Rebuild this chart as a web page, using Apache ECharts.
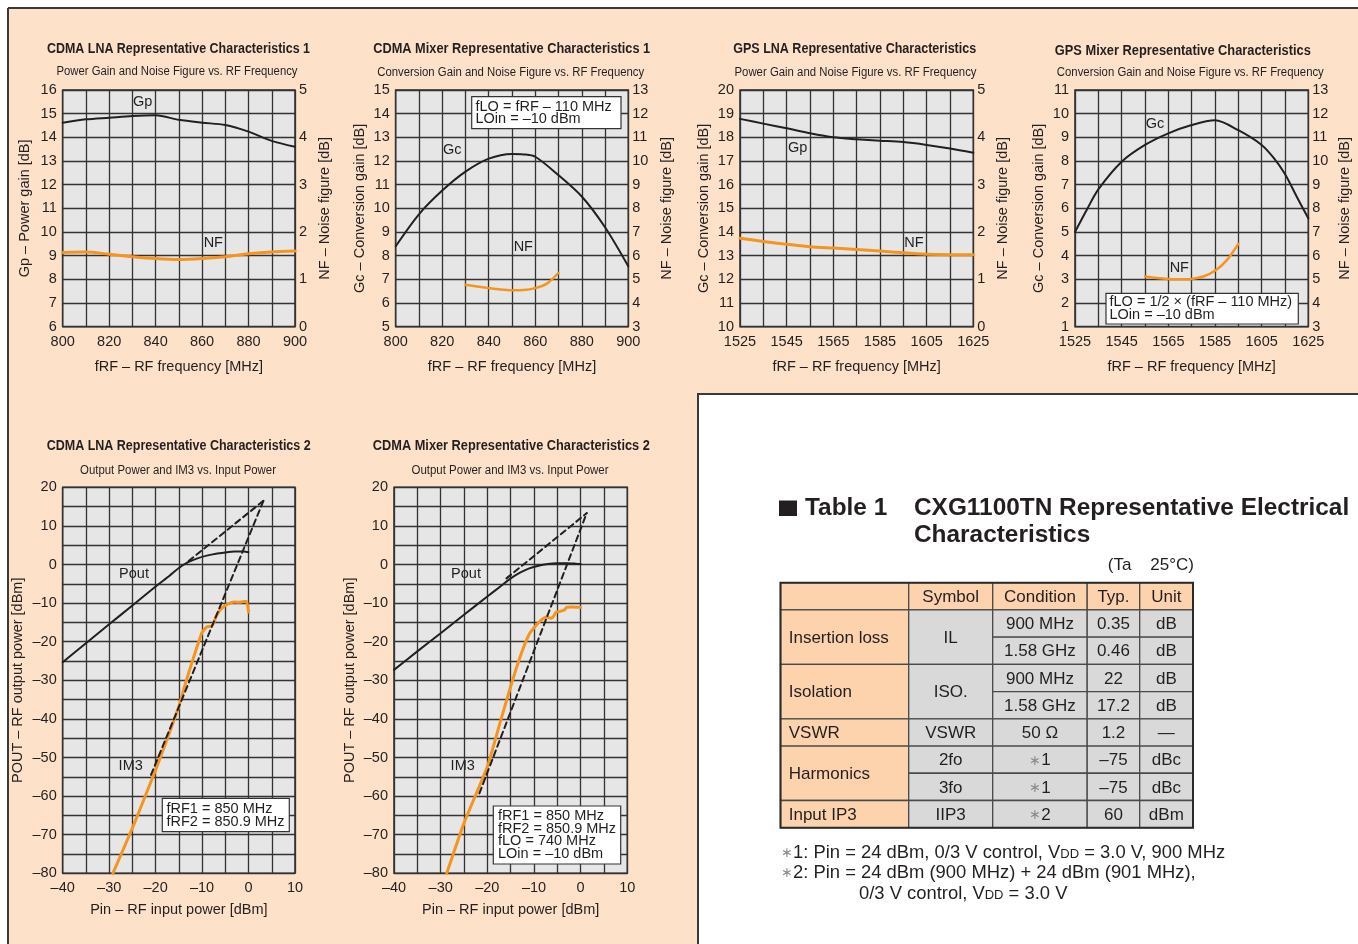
<!DOCTYPE html>
<html><head><meta charset="utf-8">
<script src="https://cdn.jsdelivr.net/npm/echarts@6/dist/echarts.min.js"></script>
<style>html,body{margin:0;padding:0;background:#fff}#c{width:1358px;height:944px}</style>
</head><body><div id="c"></div>
<script>
// ---------- DATA ----------
// CDMA LNA 1
const lna1Freq   = [800,810,820,830,840,850,860,870,880,890,900];
const lna1Gp     = [14.62,14.76,14.83,14.9,14.93,14.74,14.62,14.52,14.24,13.85,13.6];
const lna1NfFreq = [800,810,820,830,840,850,860,870,880,890,900];
const lna1Nf     = [1.57,1.58,1.53,1.48,1.44,1.42,1.44,1.48,1.54,1.58,1.6];
// CDMA Mixer 1
const mix1Freq   = [800,810,820,830,840,850,855,860,870,880,890,900];
const mix1Gc     = [8.4,9.75,10.75,11.55,12.1,12.3,12.28,12.18,11.4,10.5,9.2,7.55];
const mix1NfFreq = [830,835,840,845,850,855,860,865,870];
const mix1Nf     = [4.77,4.7,4.63,4.57,4.54,4.55,4.63,4.82,5.28];
// GPS LNA
const gpsLnaFreq = [1525,1535,1545,1555,1565,1575,1585,1595,1605,1615,1625];
const gpsLnaGp   = [18.78,18.58,18.38,18.17,18.0,17.92,17.86,17.8,17.68,17.53,17.35];
const gpsLnaNf   = [1.87,1.8,1.74,1.69,1.66,1.63,1.6,1.56,1.53,1.52,1.52];
// GPS Mixer
const gpsMixFreq   = [1525,1530,1535,1545,1555,1565,1575,1585,1595,1605,1610,1615,1620,1625];
const gpsMixGc     = [5.0,5.93,6.8,7.97,8.68,9.17,9.52,9.72,9.3,8.68,8.15,7.45,6.5,5.58];
const gpsMixNfFreq = [1555,1560,1565,1570,1575,1580,1585,1590,1595];
const gpsMixNf     = [5.12,5.06,5.02,5.0,5.02,5.12,5.36,5.8,6.5];
// CDMA LNA 2
const lna2Pin     = [-40,-35,-30,-25,-20,-17,-15,-13,-11,-9,-7,-5,-3,-1,0];
const lna2Pout    = [-25.3,-20.4,-15.5,-10.6,-5.7,-2.9,-0.9,0.6,1.6,2.3,2.8,3.1,3.35,3.4,3.2];
const lna2Im3Pin  = [-29.2,-25,-20,-17,-15,-13.5,-12,-11,-10,-9,-8,-7.5,-7,-6,-5,-4,-3,-2,-1,-0.4,0];
const lna2Im3     = [-80,-68.3,-53.2,-43.5,-36.8,-30.5,-24.7,-21,-17.6,-16.2,-16.0,-15.2,-13.5,-11.6,-10.6,-10.0,-9.7,-9.8,-9.6,-9.6,-12.3];
const lna2PoutAsymPin = [-12.9,3.2];
const lna2PoutAsym    = [0.9,16.5];
const lna2Im3AsymPin  = [-21,3.2];
const lna2Im3Asym     = [-54.5,16.5];
// CDMA Mixer 2
const mix2Pin     = [-40,-35,-30,-25,-20,-17,-15,-13,-11,-9,-7,-5,-3,-1,0];
const mix2Pout    = [-27.3,-22.5,-17.8,-13.0,-8.3,-5.5,-3.6,-2.1,-1.0,-0.3,0.1,0.3,0.35,0.2,0.1];
const mix2Im3Pin  = [-28.7,-25,-20,-17.3,-15,-13,-11,-9,-8,-7.3,-6.5,-6,-5.2,-4.5,-3.5,-3,-2,0];
const mix2Im3     = [-80,-67,-52.4,-41.1,-31.6,-24,-18,-15,-14,-13.6,-13.9,-13.7,-12.3,-12.2,-11.8,-11.1,-11,-11.1];
const mix2PoutAsymPin = [-15.9,1.3];
const mix2PoutAsym    = [-3.6,13.3];
const mix2Im3AsymPin  = [-21.7,1.3];
const mix2Im3Asym     = [-59.3,13.3];
// Table
const tableHeader = ['', 'Symbol', 'Condition', 'Typ.', 'Unit'];
const tableParams = [['Insertion loss',2],['Isolation',2],['VSWR',1],['Harmonics',2],['Input IP3',1]];
const tableSymbols = [['IL',2],['ISO.',2],['VSWR',1],['2fo',1],['3fo',1],['IIP3',1]];
const tableConditions = ['900 MHz','1.58 GHz','900 MHz','1.58 GHz','50 \u03A9','{a|\u2217}1','{a|\u2217}1','{a|\u2217}2'];
const tableTyp = ['0.35','0.46','22','17.2','1.2','\u201375','\u201375','60'];
const tableUnits = ['dB','dB','dB','dB','\u2014','dBc','dBc','dBm'];

// ---------- STYLE ----------
const FONT = "'Liberation Sans', Arial, Helvetica, sans-serif";
const TXT = '#231f20';
const ORANGE = '#f7941e';
const PEACH = '#fde1c8';
const GRIDC = '#333333';
const GPS0 = 1525;

const gridBoxes = [
  {left:62.7, top:90, width:232.3, height:236.7},
  {left:395.7, top:90, width:232.6, height:236.7},
  {left:740, top:90, width:233.3, height:236.7},
  {left:1075, top:90, width:233.3, height:236.7},
  {left:62.7, top:487.3, width:232.3, height:386},
  {left:394, top:487.3, width:233.3, height:386}
];
const grids = gridBoxes.map(g => Object.assign({show:true, backgroundColor:'#e6e6e7', borderColor:'#2b2b2b', borderWidth:1.5, containLabel:false, outerBoundsMode:'none'}, g));

const dash = s => String(s).replace('-', '\u2013');
const labelStyle = {fontSize:14.5, color:TXT, fontFamily:FONT, showMinLabel:true, showMaxLabel:true};
const nameStyle = {fontSize:14.5, color:TXT, fontFamily:FONT};
const split = {show:true, lineStyle:{color:GRIDC, width:1.3}};

function topX(gi, lo, hi, off){
  return {gridIndex:gi, type:'value', min:lo-off, max:hi-off, interval:10,
    name:'fRF \u2013 RF frequency [MHz]', nameLocation:'middle', nameGap:33, nameTextStyle:nameStyle,
    axisLine:{show:false}, axisTick:{show:false}, splitLine:split,
    axisLabel:Object.assign({}, labelStyle, {margin:8, formatter:v => (Math.round(v+off) - lo) % 20 === 0 ? String(Math.round(v+off)) : ''})};
}
function botX(gi){
  return {gridIndex:gi, type:'value', min:-40, max:10, interval:5,
    name:'Pin \u2013 RF input power [dBm]', nameLocation:'middle', nameGap:29, nameTextStyle:nameStyle,
    axisLine:{show:false}, axisTick:{show:false}, splitLine:split,
    axisLabel:Object.assign({}, labelStyle, {margin:7, formatter:v => v % 10 === 0 ? dash(v) : ''})};
}
function yAx(gi, lo, hi, name, gap, right, showSplit, interval, every){
  return {gridIndex:gi, type:'value', min:lo, max:hi, interval:interval||1, position:right?'right':'left',
    name:name, nameLocation:'middle', nameGap:gap, nameRotate:90, nameTextStyle:nameStyle,
    axisLine:{show:false}, axisTick:{show:false}, splitLine:showSplit?split:{show:false},
    axisLabel:Object.assign({}, labelStyle, {margin:right?4:6, formatter:v => (every ? (v % every === 0 ? dash(v) : '') : dash(v))})};
}
const xAxes = [
  topX(0, 800, 900, 0), topX(1, 800, 900, 0), topX(2, 1525, 1625, GPS0), topX(3, 1525, 1625, GPS0),
  botX(4), botX(5)
];
const NFN = 'NF \u2013 Noise figure [dB]', GCN = 'Gc \u2013 Conversion gain [dB]';
const POUTN = 'POUT \u2013 RF output power [dBm]';
const yAxes = [
  yAx(0, 6, 16, 'Gp \u2013 Power gain [dB]', 30, false, true),
  yAx(0, 0, 5, NFN, 22, true, false, 0.5, 1),
  yAx(1, 5, 15, GCN, 28, false, true),
  yAx(1, 3, 13, NFN, 31, true, false),
  yAx(2, 10, 20, GCN, 29, false, true),
  yAx(2, 0, 5, NFN, 22, true, false, 0.5, 1),
  yAx(3, 1, 11, GCN, 29, false, true),
  yAx(3, 3, 13, NFN, 29, true, false),
  yAx(4, -80, 20, POUTN, 37, false, true, 5, 10),
  yAx(5, -80, 20, POUTN, 36.5, false, true, 5, 10)
];

function ser(xi, yi, xs, ys, color, width, opts){
  opts = opts || {};
  const off = opts.off || 0;
  return {type:'line', xAxisIndex:xi, yAxisIndex:yi, data:xs.map((x,i)=>[x-off, ys[i]]),
    symbol:'none', showSymbol:false, silent:true, smooth:opts.smooth===undefined?0.3:opts.smooth,
    lineStyle:{color:color, width:width, type:opts.dashed?[6,4]:'solid', cap:'round', join:'round'}, z:opts.z||3};
}
const BLACK = '#231f20';
const series = [
  ser(0,0,lna1Freq,lna1Gp,BLACK,2),
  ser(0,1,lna1NfFreq,lna1Nf,ORANGE,3),
  ser(1,2,mix1Freq,mix1Gc,BLACK,2),
  ser(1,3,mix1NfFreq,mix1Nf,ORANGE,2.5),
  ser(2,4,gpsLnaFreq,gpsLnaGp,BLACK,2,{off:GPS0}),
  ser(2,5,gpsLnaFreq,gpsLnaNf,ORANGE,3,{off:GPS0}),
  ser(3,6,gpsMixFreq,gpsMixGc,BLACK,2,{off:GPS0}),
  ser(3,7,gpsMixNfFreq,gpsMixNf,ORANGE,2.5,{off:GPS0}),
  ser(4,8,lna2Pin,lna2Pout,BLACK,2,{smooth:0.2}),
  ser(4,8,lna2Im3Pin,lna2Im3,ORANGE,3,{smooth:0.15}),
  ser(4,8,lna2PoutAsymPin,lna2PoutAsym,BLACK,2,{dashed:true,smooth:false}),
  ser(4,8,lna2Im3AsymPin,lna2Im3Asym,BLACK,2,{dashed:true,smooth:false}),
  ser(5,9,mix2Pin,mix2Pout,BLACK,2,{smooth:0.2}),
  ser(5,9,mix2Im3Pin,mix2Im3,ORANGE,3,{smooth:0.15}),
  ser(5,9,mix2PoutAsymPin,mix2PoutAsym,BLACK,2,{dashed:true,smooth:false}),
  ser(5,9,mix2Im3AsymPin,mix2Im3Asym,BLACK,2,{dashed:true,smooth:false})
];

// ---------- GRAPHICS ----------
const G = [];
const mctx = document.createElement('canvas').getContext('2d');
function measure(text, size, weight){
  mctx.font = (weight || 'normal') + ' ' + size + 'px ' + FONT;
  return mctx.measureText(text).width;
}
function txt(x, y, text, o, extra){
  o = o || {};
  G.push(Object.assign({type:'text', x:x, y:y, z:100, silent:true, style:Object.assign({text:text, fill:TXT, fontSize:14.5, fontFamily:FONT,
    align:'center', verticalAlign:'middle'}, o)}, extra || {}));
}
function fitTxt(x, y, text, width, size, weight){
  const w = measure(text, size, weight);
  txt(x, y, text, {fontSize:size, fontWeight:weight || 'normal'}, {scaleX: width / w});
}
function rect(x, y, w, h, fill, stroke, lw, z){
  G.push({type:'rect', z:z===undefined?50:z, silent:true, shape:{x:x,y:y,width:w,height:h}, style:{fill:fill, stroke:stroke||null, lineWidth:lw||0}});
}
function ln(x1,y1,x2,y2,c,w,z){
  G.push({type:'line', z:z===undefined?-5:z, silent:true, shape:{x1:x1,y1:y1,x2:x2,y2:y2}, style:{stroke:c, lineWidth:w}});
}
// background
G.push({type:'polygon', z:-10, silent:true, shape:{points:[[8,8],[1358,8],[1358,394],[698,394],[698,944],[8,944]]}, style:{fill:PEACH}});
ln(8,8,1358,8,'#3a3a3a',2); ln(8,8,8,944,'#3a3a3a',2);
ln(697,394,1358,394,'#3a3a3a',2); ln(698,394,698,944,'#3a3a3a',2);

// chart titles: [title, cx, cy, width, subtitle, cx, cy, width]
const titles = [
  ['CDMA LNA Representative Characteristics 1', 178.5, 49, 263, 'Power Gain and Noise Figure vs. RF Frequency', 177, 72, 241],
  ['CDMA Mixer Representative Characteristics 1', 511.7, 49, 277, 'Conversion Gain and Noise Figure vs. RF Frequency', 510.7, 73, 267],
  ['GPS LNA Representative Characteristics', 854.7, 49, 243, 'Power Gain and Noise Figure vs. RF Frequency', 855.5, 73, 242],
  ['GPS Mixer Representative Characteristics', 1182.8, 50.5, 256, 'Conversion Gain and Noise Figure vs. RF Frequency', 1190.3, 73, 267],
  ['CDMA LNA Representative Characteristics 2', 178.7, 445.7, 264, 'Output Power and IM3 vs. Input Power', 178, 471, 196],
  ['CDMA Mixer Representative Characteristics 2', 511.3, 445.7, 277, 'Output Power and IM3 vs. Input Power', 510, 471, 197]
];
titles.forEach(t => {
  fitTxt(t[1], t[2], t[0], t[3], 14.5, 'bold');
  fitTxt(t[5], t[6], t[4], t[7], 12.5, 'normal');
});
// curve labels
txt(142.7, 101.7, 'Gp'); txt(213.3, 243.3, 'NF');
txt(452.3, 150, 'Gc'); txt(523.3, 247.3, 'NF');
txt(797.7, 148.3, 'Gp'); txt(914, 243.3, 'NF');
txt(1155, 124, 'Gc'); txt(1179.3, 267.7, 'NF');
txt(134, 574, 'Pout'); txt(130.7, 766, 'IM3');
txt(466, 574, 'Pout'); txt(462.7, 766, 'IM3');
// condition boxes
function box(x, y, w, h, lines, tx, ty, lh){
  rect(x, y, w, h, '#ffffff', '#333333', 1.2, 60);
  lines.forEach((s,i) => txt(tx, ty + i*lh, s, {align:'left', fontSize:14.5}));
}
box(471.7, 96.7, 149.3, 32, ['fLO = fRF \u2013 110 MHz', 'LOin = \u201310 dBm'], 475.5, 106.5, 12.8);
box(1106, 293.3, 192.3, 30.7, ['fLO = 1/2 \u00D7 (fRF \u2013 110 MHz)', 'LOin = \u201310 dBm'], 1109.5, 301.7, 13.3);
box(162.3, 798.3, 127, 33.4, ['fRF1 = 850 MHz', 'fRF2 = 850.9 MHz'], 166.5, 809.3, 12.4);
box(493.3, 806, 127.4, 58, ['fRF1 = 850 MHz', 'fRF2 = 850.9 MHz', 'fLO = 740 MHz', 'LOin = \u201310 dBm'], 498, 816, 12.7);

// table title
rect(779, 500.5, 18, 15.5, TXT, null, 0, 60);
txt(805, 508, 'Table 1', {align:'left', fontWeight:'bold', fontSize:24.4});
txt(914, 508, 'CXG1100TN Representative Electrical', {align:'left', fontWeight:'bold', fontSize:24.4});
txt(914, 535, 'Characteristics', {align:'left', fontWeight:'bold', fontSize:24.4});
txt(1194, 565, '(Ta    25\u00B0C)', {align:'right', fontSize:17});

// table
const colX = [780.5, 908.7, 992.7, 1087.2, 1139.7, 1193];
const T0 = 582.7, RH = (827.7 - 582.7) / 9;
const TPEACH = '#fcd3ad', TGRAY = '#d9d9da', TLINE = '#4a4a4a';
const tRich = {a:{fill:'#8a8a8a', fontSize:14, fontFamily:FONT}};
const TS = {fontSize:17, rich:tRich};
function cell(c, r0, span, text, fill, align){
  const x = colX[c], w = colX[c+1] - colX[c], y = T0 + r0*RH, h = span*RH;
  rect(x, y, w, h, fill, TLINE, 1.3, 55);
  if (text) {
    if (align === 'left') txt(x + 8.2, y + h/2 + 1, text, Object.assign({align:'left'}, TS));
    else txt(x + w/2, y + h/2 + 1, text, TS);
  }
}
tableHeader.forEach((h, c) => cell(c, 0, 1, h, TPEACH));
let r = 1;
tableParams.forEach(p => { cell(0, r, p[1], p[0], TPEACH, 'left'); r += p[1]; });
r = 1;
tableSymbols.forEach(s => { cell(1, r, s[1], s[0], TGRAY); r += s[1]; });
tableConditions.forEach((v, i) => cell(2, i+1, 1, v, TGRAY));
tableTyp.forEach((v, i) => cell(3, i+1, 1, v, TGRAY));
tableUnits.forEach((v, i) => cell(4, i+1, 1, v, TGRAY));
G.push({type:'rect', z:58, silent:true, shape:{x:colX[0], y:T0, width:colX[5]-colX[0], height:9*RH}, style:{fill:null, stroke:'#2a2a2a', lineWidth:2}});

// footnotes
const rich = {a:{fill:'#8a8a8a', fontSize:14, fontFamily:FONT}, s:{fontSize:13, fontFamily:FONT, fill:TXT, verticalAlign:'bottom', padding:[0,0,1,0]}};
txt(781, 853, '{a|\u2217}1: Pin = 24 dBm, 0/3 V control, V{s|DD} = 3.0 V, 900 MHz', {align:'left', fontSize:18.4, rich:rich});
txt(781, 873, '{a|\u2217}2: Pin = 24 dBm (900 MHz) + 24 dBm (901 MHz),', {align:'left', fontSize:18.4, rich:rich});
txt(859, 894, '0/3 V control, V{s|DD} = 3.0 V', {align:'left', fontSize:18.4, rich:rich});

const chart = echarts.init(document.getElementById('c'), null, {renderer:'canvas'});
chart.setOption({
  backgroundColor:'#ffffff',
  animation:false,
  grid:grids,
  xAxis:xAxes,
  yAxis:yAxes,
  series:series,
  graphic:{elements:G}
});
</script></body></html>
